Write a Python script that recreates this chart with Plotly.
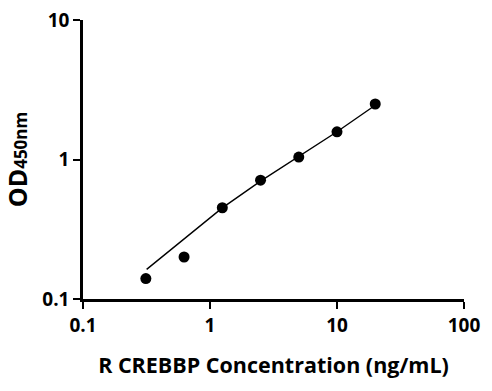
import plotly.graph_objects as go

conc = [0.3125, 0.625, 1.25, 2.5, 5, 10, 20]
od = [0.140, 0.200, 0.451, 0.711, 1.04, 1.58, 2.50]
fit_x = [0.317, 0.625, 1.25, 2.5, 5, 10, 20]
fit_y = [0.163, 0.27, 0.45, 0.70, 1.05, 1.58, 2.45]
tick_x = [0.1, 1, 10, 100]
tick_x_text = ["0.1", "1", "10", "100"]
tick_y = [0.1, 1, 10]
tick_y_text = ["0.1", "1", "10"]

FONT = "Open Sans"

fig = go.Figure()
fig.add_trace(go.Scatter(x=fit_x, y=fit_y, mode="lines",
                         line=dict(color="black", width=1.4), hoverinfo="skip"))
fig.add_trace(go.Scatter(x=conc, y=od, mode="markers",
                         marker=dict(color="black", size=11)))

fig.update_layout(
    width=492, height=391,
    margin=dict(l=83, r=28, t=20, b=92),
    paper_bgcolor="white", plot_bgcolor="white",
    showlegend=False,
    font=dict(family=FONT, color="black"),
)
fig.update_xaxes(
    type="log", range=[-1, 2], automargin=False,
    tickvals=tick_x, ticktext=tick_x_text,
    showgrid=False, zeroline=False,
    showline=True, linecolor="black", linewidth=2.5,
    ticks="outside", ticklen=7, tickwidth=2, tickcolor="black",
    tickfont=dict(family=FONT, size=19, color="black", weight="bold"),
    title=dict(text="R CREBBP Concentration (ng/mL)",
               font=dict(family=FONT, size=21.5, color="black", weight="bold"),
               standoff=22),
)
fig.update_yaxes(
    type="log", range=[-1, 1], automargin=False,
    tickvals=tick_y, ticktext=tick_y_text,
    showgrid=False, zeroline=False,
    showline=True, linecolor="black", linewidth=2.5,
    ticks="outside", ticklen=7, tickwidth=2, tickcolor="black",
    tickfont=dict(family=FONT, size=19, color="black", weight="bold"),
    title=dict(text="OD<span style='font-size:17px'>450nm</span>",
               font=dict(family=FONT, size=25, color="black", weight="bold"),
               standoff=10),
)

fig.write_html("out.html")
